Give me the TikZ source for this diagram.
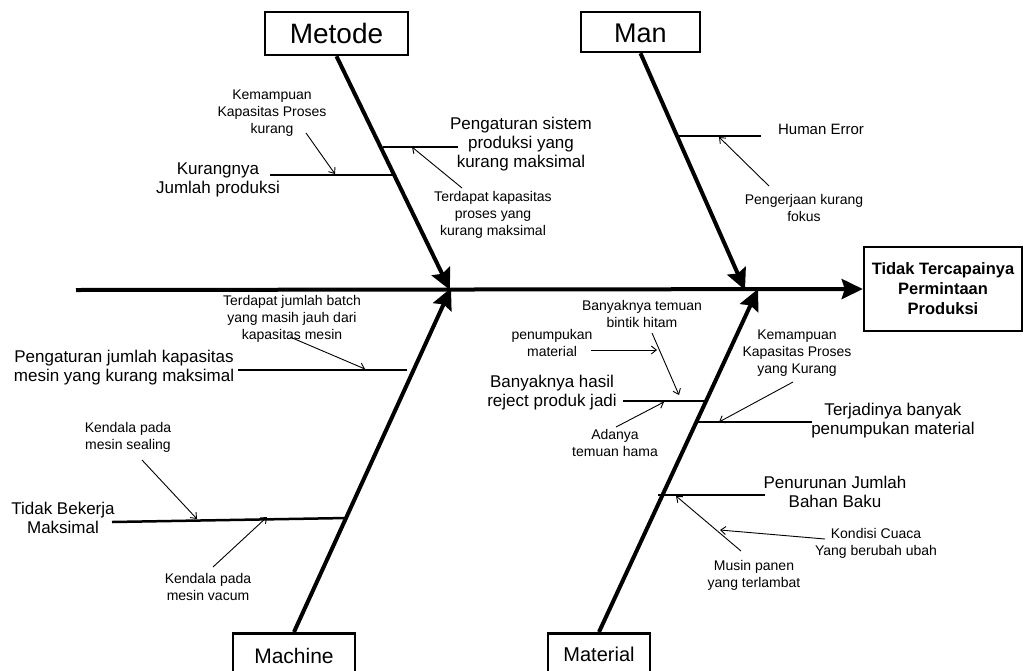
\documentclass[tikz,border=0pt]{standalone}
\usepackage{fontspec}
\setmainfont{Liberation Sans}
\usetikzlibrary{arrows.meta}
\begin{document}
\begin{tikzpicture}[x=1pt,y=-1pt,
  catbox/.style={draw,line width=2.5pt,inner sep=0pt,align=center},
  spineline/.style={line width=4pt,-{Stealth[length=21pt,width=20pt,inset=3pt]}},
  subbone/.style={line width=2.5pt},
  note/.style={line width=0.9pt,-{Straight Barb[length=5pt,width=8pt]}},
  midtxt/.style={align=center,inner sep=0pt,font=\fontsize{17}{19}\selectfont},
  smalltxt/.style={align=center,inner sep=0pt,font=\fontsize{14}{17}\selectfont},
]
\useasboundingbox (0,0) rectangle (1028,670);
\clip (0,0) rectangle (1028,670);

% category and effect boxes
\node[catbox,minimum width=143pt,minimum height=43pt,font=\fontsize{28}{30}\selectfont] (metode) at (336.5,33.5) {Metode};
\node[catbox,minimum width=119pt,minimum height=40pt,text height=20pt,text depth=0pt,font=\fontsize{27}{30}\selectfont] (man) at (640.5,32) {Man};
\node[catbox,anchor=north,minimum width=122pt,minimum height=46pt,font=\fontsize{21}{24}\selectfont] (machine) at (294,632) {Machine};
\node[catbox,anchor=north,minimum width=102pt,minimum height=42pt,font=\fontsize{20}{24}\selectfont] (material) at (599,632) {Material};
\node[catbox,minimum width=158pt,minimum height=84pt,font=\bfseries\fontsize{16.5}{20}\selectfont] (result) at (943,289) {Tidak Tercapainya\\Permintaan\\Produksi};

% spine and bones
\coordinate (spinestart) at (76,290);
\coordinate (tipMetode) at (450,290);
\coordinate (tipMan) at (745,290);
\coordinate (tipMachine) at (451,288);
\coordinate (tipMaterial) at (758,289);
\draw[spineline] (spinestart) -- (result.west);
\draw[spineline] (metode.south) -- (tipMetode);
\draw[spineline] (man.south) -- (tipMan);
\draw[spineline] (machine.north) -- (tipMachine);
\draw[spineline] (material.north) -- (tipMaterial);

% sub-bone coordinates
\coordinate (a1) at (270,175); \coordinate (a2) at (395,175);
\coordinate (b1) at (383,147); \coordinate (b2) at (458,147);
\coordinate (c1) at (678,136); \coordinate (c2) at (761,136);
\coordinate (d1) at (238,370); \coordinate (d2) at (407,370);
\coordinate (e1) at (112,522); \coordinate (e2) at (347,518);
\coordinate (f1) at (623,401); \coordinate (f2) at (707,401);
\coordinate (g1) at (695,422); \coordinate (g2) at (812,422);
\coordinate (h1) at (658,495); \coordinate (h2) at (765,495);
\draw[subbone] (a1) -- (a2);
\draw[subbone] (b1) -- (b2);
\draw[subbone] (c1) -- (c2);
\draw[subbone] (d1) -- (d2);
\draw[subbone] (e1) -- (e2);
\draw[subbone] (f1) -- (f2);
\draw[subbone] (g1) -- (g2);
\draw[subbone] (h1) -- (h2);

% main cause texts
\node[midtxt] (tK1) at (218,180) {Kurangnya\\Jumlah produksi};
\node[midtxt] (tK2) at (521,144) {Pengaturan sistem\\produksi yang\\kurang maksimal};
\node[align=center,inner sep=0pt,font=\fontsize{15}{18}\selectfont] (tH) at (821,129) {Human Error};
\node[midtxt] (tP) at (124,368) {Pengaturan jumlah kapasitas\\mesin yang kurang maksimal};
\node[midtxt] (tT) at (63,518) {Tidak Bekerja\\Maksimal};
\node[midtxt] (tB) at (552,393) {Banyaknya hasil\\reject produk jadi};
\node[midtxt] (tJ) at (893,421) {Terjadinya banyak\\penumpukan material};
\node[midtxt] (tR) at (835,492) {Penurunan Jumlah\\Bahan Baku};

% sub-cause texts
\node[smalltxt] (sK1) at (272,113) {Kemampuan\\Kapasitas Proses\\kurang};
\node[smalltxt] (sK2) at (493,215) {Terdapat kapasitas\\proses yang\\kurang maksimal};
\node[smalltxt] (sH) at (804,208) {Pengerjaan kurang\\fokus};
\node[smalltxt] (sP) at (292,319) {Terdapat jumlah batch\\yang masih jauh dari\\kapasitas mesin};
\node[smalltxt] (sT1) at (128,437) {Kendala pada\\mesin sealing};
\node[smalltxt] (sT2) at (208,587) {Kendala pada\\mesin vacum};
\node[smalltxt] (sB1) at (642,314) {Banyaknya temuan\\bintik hitam};
\node[smalltxt] (sB2) at (552,343) {penumpukan\\material};
\node[smalltxt] (sB3) at (615,443) {Adanya\\temuan hama};
\node[smalltxt] (sJ) at (797,353) {Kemampuan\\Kapasitas Proses\\yang Kurang};
\node[smalltxt] (sR1) at (876,543) {Kondisi Cuaca\\Yang berubah ubah};
\node[smalltxt] (sR2) at (754,575) {Musin panen\\yang terlambat};

% small arrows
\coordinate (n1s) at (306,133); \coordinate (n1e) at (335,174);
\coordinate (n2s) at (462,188); \coordinate (n2e) at (412,147);
\coordinate (n3s) at (769,186); \coordinate (n3e) at (719,137);
\coordinate (n4s) at (290,337); \coordinate (n4e) at (365,369);
\coordinate (n5s) at (142,460); \coordinate (n5e) at (197,519);
\coordinate (n6s) at (213,567); \coordinate (n6e) at (267,517);
\coordinate (n7s) at (652,333); \coordinate (n7e) at (679,395);
\coordinate (n8s) at (591,350); \coordinate (n8e) at (657,350);
\coordinate (n9s) at (616,427); \coordinate (n9e) at (664,402);
\coordinate (n10s) at (793,382); \coordinate (n10e) at (719,422);
\coordinate (n11s) at (825,539); \coordinate (n11e) at (720,530);
\coordinate (n12s) at (741,551); \coordinate (n12e) at (676,496);
\draw[note] (n1s) -- (n1e);
\draw[note] (n2s) -- (n2e);
\draw[note] (n3s) -- (n3e);
\draw[note] (n4s) -- (n4e);
\draw[note] (n5s) -- (n5e);
\draw[note] (n6s) -- (n6e);
\draw[note] (n7s) -- (n7e);
\draw[note] (n8s) -- (n8e);
\draw[note] (n9s) -- (n9e);
\draw[note] (n10s) -- (n10e);
\draw[note] (n11s) -- (n11e);
\draw[note] (n12s) -- (n12e);
\end{tikzpicture}
\end{document}
